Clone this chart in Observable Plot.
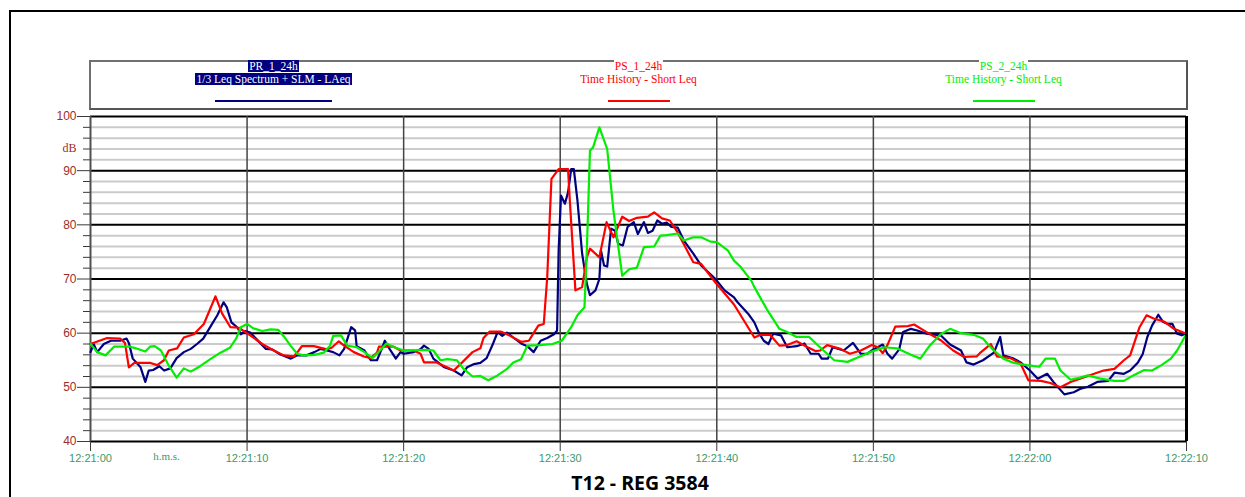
<!DOCTYPE html>
<html>
<head>
<meta charset="utf-8">
<script src="https://cdn.jsdelivr.net/npm/d3@7"></script>
<script src="https://cdn.jsdelivr.net/npm/@observablehq/plot@0.6"></script>
<style>
  html, body { margin: 0; padding: 0; background: #fff; }
  #page { position: relative; width: 1245px; height: 497px; overflow: hidden; background: #fff; }
  #frame { position: absolute; left: 9px; top: 10px; width: 1400px; height: 700px;
           border-left: 2px solid #000; border-top: 2px solid #000; }
  #chart { position: absolute; left: 0; top: 0; }
  #legend { position: absolute; left: 89px; top: 60px; width: 1095px; height: 46px;
            border: 2px solid #707070; border-right-color: #555; border-bottom-color: #555;
            display: flex; font-family: "Liberation Serif", "Times New Roman", serif; font-size: 11.5px; }
  .entry { flex: 1; text-align: center; margin-top: -2px; }
  .entry .ln { height: 13px; line-height: 13px; }
  .entry .ln span { background: #fff; padding: 0 1px; }
  .entry.pr .ln span { background: #000080; color: #fff; }
  .entry .swatch { margin: 14px auto 0; height: 2px; }
  #title { position: absolute; left: 0; top: 471px; width: 1280px; text-align: center;
           font-family: "Open Sans", sans-serif; font-weight: 700; font-size: 19.5px; line-height: 24px; color: #000; }
</style>
</head>
<body>
<div id="page">
  <div id="frame"></div>
  <div id="chart"></div>
  <div id="legend"></div>
  <div id="title"></div>
</div>
<script>
// Sound level records, time in seconds after 12:21:00, levels in dB
const prTimes = [0.0, 0.2, 0.43, 0.85, 1.3, 1.9, 2.3, 2.45, 2.7, 3.2, 3.5, 3.72, 4.0, 4.4, 4.7, 5.1, 5.5, 5.96, 6.4, 6.8,
  7.2, 7.7, 8.1, 8.5, 8.7, 9.0, 9.4, 9.6, 9.9, 10.2, 10.6, 11.2, 11.6, 12.1, 12.8, 13.2, 13.8, 14.3, 14.7, 15.1,
  15.5, 15.9, 16.2, 16.45, 16.65, 16.9, 17.0, 17.5, 17.9, 18.3, 18.6, 18.8, 19.1, 19.5, 19.8, 20.0, 20.65, 21.1, 21.3, 21.6,
  21.9, 22.6, 23.2, 23.7, 24.05, 24.5, 24.9, 25.3, 25.7, 26.0, 26.3, 26.6, 27.0, 27.5, 27.9, 28.3, 28.75, 29.17, 29.6, 29.8,
  29.9, 30.05, 30.3, 30.5, 30.7, 30.87, 31.1, 31.4, 31.7, 31.9, 32.25, 32.5, 32.6, 32.8, 33.0, 33.25, 33.5, 33.7, 34.0, 34.3,
  34.7, 34.96, 35.35, 35.6, 35.9, 36.2, 36.5, 36.8, 37.1, 37.5, 37.9, 38.5, 39.0, 39.8, 40.0, 40.5, 41.1, 41.3, 42.0, 42.4,
  42.7, 43.0, 43.3, 43.6, 44.1, 44.5, 45.1, 45.6, 46.0, 46.5, 46.7, 47.1, 47.4, 48.1, 48.7, 49.2, 49.6, 50.0, 50.6, 50.9,
  51.2, 51.65, 51.9, 52.4, 52.8, 53.4, 54.3, 54.9, 55.6, 55.95, 56.4, 57.0, 57.7, 58.1, 58.3, 58.97, 59.4, 60.0, 60.5, 61.1,
  61.5, 62.2, 62.8, 63.2, 63.7, 64.3, 65.0, 65.4, 66.0, 66.4, 66.9, 67.2, 67.5, 67.8, 68.2, 68.5, 68.8, 69.1, 69.4, 69.7, 70.0];
const prLevels = [56.5, 58.0, 56.5, 58.0, 58.6, 58.6, 59.0, 58.2, 55.3, 53.7, 51.0, 53.1, 53.2, 53.9, 53.1, 53.5, 55.4, 56.5, 57.1, 58.0,
  59.0, 61.4, 63.3, 65.7, 64.8, 62.0, 61.0, 59.8, 60.4, 60.1, 58.9, 57.1, 57.0, 56.1, 55.3, 55.9, 55.9, 56.5, 57.1, 56.8,
  56.5, 55.9, 57.1, 59.3, 61.1, 60.5, 57.6, 56.8, 55.0, 55.0, 57.1, 58.6, 57.1, 55.3, 56.5, 56.2, 56.5, 57.1, 57.7, 57.1,
  55.3, 53.7, 53.1, 52.2, 53.7, 54.3, 54.5, 55.4, 58.0, 60.2, 59.5, 60.1, 59.2, 58.1, 57.6, 56.5, 58.6, 59.1, 59.8, 60.5,
  75.3, 85.4, 83.9, 86.0, 90.3, 90.3, 84.5, 74.7, 69.1, 67.0, 67.9, 70.0, 75.3, 72.5, 72.3, 79.3, 78.9, 76.5, 76.2, 79.6,
  80.5, 78.3, 80.5, 78.5, 78.9, 80.8, 80.2, 80.4, 79.6, 79.5, 77.1, 74.7, 72.5, 70.3, 69.7, 67.9, 66.6, 65.8, 63.6, 62.0,
  60.0, 58.6, 58.0, 59.9, 59.6, 57.4, 57.6, 58.1, 56.2, 56.2, 55.3, 55.3, 57.4, 56.8, 58.2, 56.2, 56.2, 57.0, 57.9, 56.2,
  55.3, 57.0, 60.2, 60.8, 60.5, 59.9, 59.6, 57.9, 56.8, 54.6, 54.2, 55.0, 56.4, 59.3, 55.9, 55.3, 54.6, 53.1, 51.6, 52.5,
  51.0, 48.7, 49.1, 49.7, 50.1, 51.0, 51.2, 52.7, 52.5, 53.1, 54.6, 56.1, 59.3, 61.4, 63.4, 62.1, 61.7, 61.7, 59.9, 59.6, 60.0];

const ps1Times = [0.0, 1.06, 1.9, 2.2, 2.45, 2.8, 3.83, 4.26, 4.69, 5.0, 5.53, 5.96, 6.6, 7.24, 7.98, 8.41, 8.94, 9.47, 9.79, 10.2,
  10.97, 11.7, 12.35, 12.99, 13.3, 13.5, 14.26, 15.1, 15.4, 15.86, 16.2, 16.82, 17.46, 17.9, 18.3, 18.42, 19.37, 19.8, 20.65, 21.08,
  21.3, 22.1, 22.77, 23.2, 23.74, 24.4, 24.9, 25.1, 25.5, 26.2, 26.8, 27.5, 28.0, 28.3, 28.6, 28.95, 29.17, 29.44, 29.9, 30.5,
  30.6, 30.97, 31.4, 31.7, 31.9, 32.5, 32.96, 33.4, 33.96, 34.4, 34.9, 35.6, 36.0, 36.5, 37.0, 37.5, 38.5, 39.0, 39.9, 41.1,
  42.4, 42.8, 43.4, 44.0, 44.5, 45.1, 45.8, 46.3, 46.6, 47.05, 47.9, 48.5, 49.2, 49.9, 50.3, 50.6, 50.9, 51.4, 52.2, 52.6,
  53.4, 54.3, 55.1, 55.8, 56.6, 56.8, 57.3, 57.5, 57.9, 58.75, 59.4, 59.9, 60.7, 61.3, 61.95, 62.6, 63.2, 64.1, 64.7, 65.4,
  66.0, 66.4, 67.0, 67.45, 67.9, 68.6, 69.2, 70.0];
const ps1Levels = [58.0, 59.1, 59.0, 58.2, 53.7, 54.5, 54.5, 54.1, 55.0, 56.8, 57.2, 59.2, 59.8, 61.7, 66.8, 63.6, 61.1, 61.0, 60.4, 59.6,
  58.0, 56.8, 55.9, 55.7, 56.8, 57.6, 57.6, 57.0, 57.3, 58.5, 57.7, 56.5, 55.7, 55.4, 56.4, 57.5, 57.5, 56.8, 56.8, 56.2,
  54.6, 54.6, 53.7, 53.1, 54.6, 56.5, 57.2, 59.1, 60.3, 60.3, 59.5, 58.4, 58.6, 60.0, 61.4, 61.7, 70.3, 88.5, 90.3, 90.3,
  85.1, 67.9, 68.5, 74.0, 75.6, 74.0, 80.5, 77.7, 81.5, 80.7, 81.3, 81.5, 82.3, 81.2, 80.8, 78.6, 73.1, 72.8, 69.4, 65.3,
  59.2, 59.7, 59.7, 57.7, 57.8, 58.5, 57.4, 56.7, 56.8, 57.8, 57.1, 56.2, 56.8, 57.8, 57.4, 56.3, 57.8, 61.2, 61.3, 61.6,
  60.2, 58.7, 56.8, 55.6, 55.7, 56.3, 57.5, 58.0, 55.7, 55.4, 54.4, 51.3, 51.2, 50.8, 50.0, 51.0, 51.6, 52.5, 53.1, 53.4,
  55.0, 55.9, 61.1, 63.3, 62.7, 62.1, 60.8, 59.9];

const ps2Times = [0.0, 0.43, 0.96, 1.5, 2.55, 2.9, 3.5, 3.8, 4.1, 4.5, 5.0, 5.5, 5.96, 6.4, 7.0, 7.7, 8.3, 8.9, 9.3, 9.6,
  10.0, 10.4, 10.97, 11.5, 12.0, 12.35, 12.8, 13.2, 13.6, 14.3, 14.9, 15.3, 15.5, 16.0, 16.4, 17.0, 17.5, 18.0, 18.4, 18.9,
  19.4, 20.0, 21.5, 21.9, 22.35, 22.8, 23.4, 23.8, 24.4, 24.9, 25.4, 26.0, 26.6, 27.0, 27.5, 27.9, 28.7, 29.5, 30.1, 30.7,
  31.1, 31.55, 31.7, 31.9, 32.1, 32.5, 33.0, 33.4, 33.96, 34.4, 34.9, 35.35, 36.0, 36.4, 36.8, 37.5, 37.9, 38.5, 39.0, 39.6,
  40.0, 40.7, 41.1, 41.5, 42.2, 42.4, 43.2, 44.0, 44.5, 45.1, 45.9, 46.4, 47.05, 47.5, 48.35, 49.0, 49.8, 50.7, 51.5, 52.4,
  53.0, 53.6, 54.3, 54.9, 55.6, 56.4, 57.0, 57.3, 57.7, 58.3, 58.97, 59.8, 60.6, 61.0, 61.6, 61.95, 62.6, 63.2, 63.7, 64.5,
  65.4, 66.0, 66.6, 67.3, 67.8, 68.4, 69.0, 69.4, 70.0];
const ps2Levels = [58.0, 56.5, 55.9, 57.5, 57.5, 57.2, 56.6, 57.5, 57.6, 56.8, 54.0, 51.8, 53.5, 52.9, 53.9, 55.3, 56.4, 57.3, 59.0, 61.1,
  61.7, 60.9, 60.4, 60.7, 60.6, 59.4, 57.6, 56.2, 55.9, 56.0, 56.4, 57.7, 59.5, 59.6, 57.7, 57.4, 56.5, 55.4, 56.5, 58.1,
  57.4, 56.8, 56.9, 56.8, 55.0, 55.2, 55.0, 53.5, 52.0, 52.1, 51.3, 52.2, 53.4, 54.6, 55.2, 57.7, 57.8, 58.0, 58.6, 61.1,
  63.3, 64.8, 75.3, 93.7, 94.3, 98.0, 94.0, 82.6, 70.6, 71.8, 72.1, 75.9, 76.0, 78.0, 78.1, 78.4, 77.1, 77.7, 77.7, 76.9,
  76.8, 75.3, 73.4, 72.3, 69.7, 68.5, 64.4, 60.8, 60.2, 59.3, 59.3, 57.9, 56.2, 55.0, 54.7, 55.5, 56.5, 57.4, 57.2, 56.0,
  55.3, 57.7, 59.8, 60.8, 60.0, 59.7, 59.0, 58.0, 56.8, 55.3, 54.5, 54.1, 53.8, 55.3, 55.3, 53.1, 51.4, 51.8, 52.2, 51.6,
  51.2, 51.2, 52.2, 53.2, 53.1, 54.1, 55.3, 56.8, 59.9];

// Series names, legend captions and colours
const seriesNames = ["PR_1_24h", "PS_1_24h", "PS_2_24h"];
const seriesCaptions = ["1/3 Leq Spectrum + SLM - LAeq", "Time History - Short Leq", "Time History - Short Leq"];
const seriesColors = ["#000080", "#ff0000", "#00ee00"];

// Axes
const xTicks = [0, 10, 20, 30, 40, 50, 60, 70];
const xTickLabels = ["12:21:00", "12:21:10", "12:21:20", "12:21:30", "12:21:40", "12:21:50", "12:22:00", "12:22:10"];
const yMajor = [40, 50, 60, 70, 80, 90, 100];
const yMinor = d3.range(40, 101, 2).filter(v => v % 10 !== 0);
const yUnit = "dB";
const xUnit = "h.m.s.";
const chartTitle = "T12 - REG 3584";

const rows = (times, levels) => times.map((t, i) => ({t, level: levels[i]}));
const prRows = rows(prTimes, prLevels);
const ps1Rows = rows(ps1Times, ps1Levels);
const ps2Rows = rows(ps2Times, ps2Levels);

const tickGrey = "#3a3a3a";
const yLabelColor = "#9b2d2d";
const xLabelColor = "#3a9a6a";

const chart = Plot.plot({
  width: 1245,
  height: 470,
  marginLeft: 90,
  marginRight: 59,
  marginTop: 116,
  marginBottom: 29,
  style: {fontFamily: "Liberation Sans, Arial, sans-serif", fontSize: "11px", background: "transparent"},
  x: {domain: [0, 70], label: null},
  y: {domain: [40, 100], label: null},
  marks: [
    // horizontal grid: light every 2 dB, black every 10 dB
    Plot.ruleY(yMinor, {stroke: "#cbcbcb", strokeWidth: 2}),
    Plot.ruleY(yMajor, {stroke: "#000", strokeWidth: 2}),
    // vertical grid every 10 s
    Plot.ruleX(xTicks.slice(1, -1), {stroke: "#444", strokeWidth: 1.5}),
    Plot.ruleX([xTicks[0]], {stroke: "#505050", strokeWidth: 2}),
    // level traces
    Plot.line(prRows, {x: "t", y: "level", stroke: seriesColors[0], strokeWidth: 2.2}),
    Plot.line(ps1Rows, {x: "t", y: "level", stroke: seriesColors[1], strokeWidth: 2.2}),
    Plot.line(ps2Rows, {x: "t", y: "level", stroke: seriesColors[2], strokeWidth: 2.2}),
    Plot.ruleX([xTicks[xTicks.length - 1]], {stroke: "#000", strokeWidth: 3}),
    // y axis: labelled major ticks and short minor ticks
    Plot.axisY(yMajor, {tickSize: 13, tickPadding: 1, fontSize: 12, label: null,
      fill: yLabelColor, stroke: tickGrey}),
    Plot.axisY(yMinor, {tickSize: 7, tickFormat: () => "", label: null, stroke: tickGrey}),
    // x axis
    Plot.axisX(xTicks, {tickSize: 10, tickPadding: 3, label: null, fill: xLabelColor, stroke: tickGrey,
      tickFormat: d => xTickLabels[xTicks.indexOf(d)]}),
    Plot.text([yUnit], {frameAnchor: "top-left", dx: -14, dy: 27, textAnchor: "end",
      fill: yLabelColor, fontSize: 12, fontFamily: "Liberation Serif, serif"}),
    Plot.text([xUnit], {frameAnchor: "bottom-left", dx: 76, dy: 18, textAnchor: "middle",
      fill: xLabelColor, fontSize: 11, fontFamily: "Liberation Serif, serif"})
  ]
});
document.getElementById("chart").appendChild(chart);

// legend box with the three series
const legend = document.getElementById("legend");
const swatchWidths = [117, 62, 62];
seriesNames.forEach((name, i) => {
  const entry = document.createElement("div");
  entry.className = "entry" + (i === 0 ? " pr" : "");
  entry.style.color = seriesColors[i];
  entry.innerHTML = `<div class="ln"><span>${name}</span></div>` +
    `<div class="ln"><span>${seriesCaptions[i]}</span></div>` +
    `<div class="swatch" style="width:${swatchWidths[i]}px;background:${seriesColors[i]}"></div>`;
  legend.appendChild(entry);
});

document.getElementById("title").textContent = chartTitle;
</script>
</body>
</html>
